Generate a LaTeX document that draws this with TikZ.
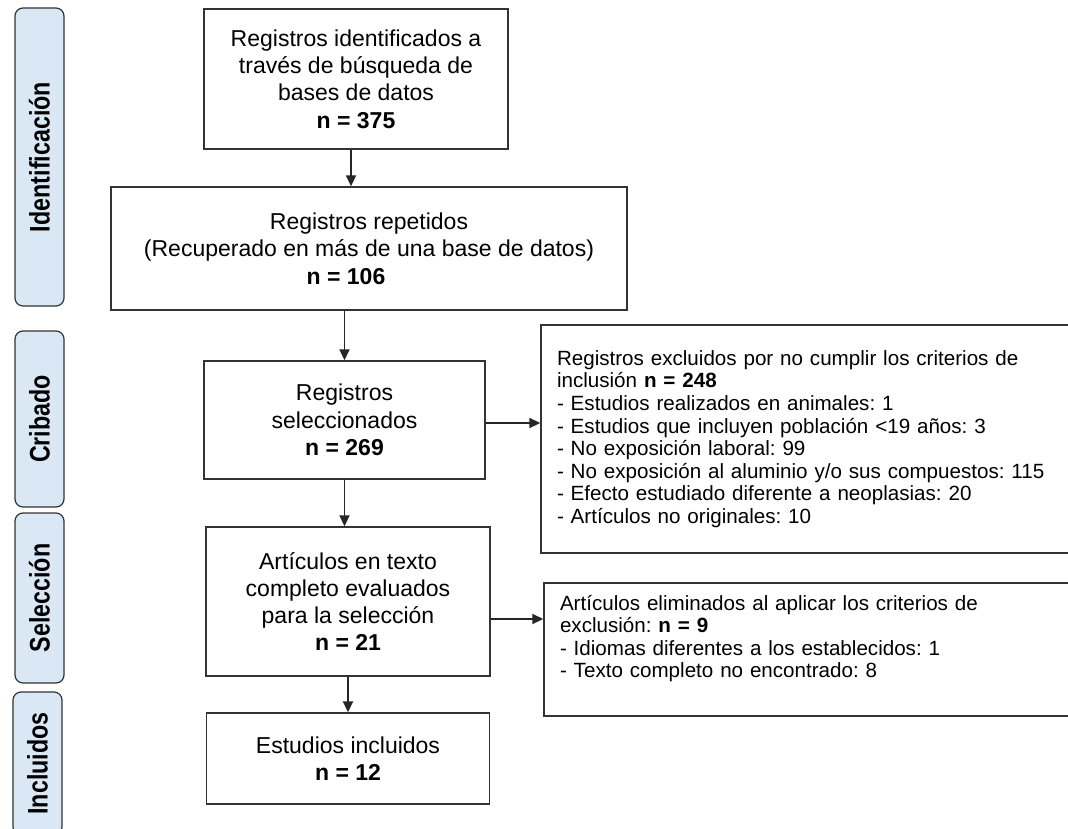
\documentclass[tikz,border=0pt]{standalone}
\usepackage{fontspec}
\setmainfont{Liberation Sans}
\usetikzlibrary{positioning,arrows.meta}
\frenchspacing

\definecolor{phasefill}{HTML}{DAE8F6}
\definecolor{boxline}{HTML}{333333}

\newcommand{\phaselabel}[1]{\scalebox{0.97}[1.18]{#1}}

\tikzset{
    flowbox/.style={draw=boxline, line width=1.4pt, align=center, inner sep=0pt,
        font=\fontsize{23}{27.3}\selectfont},
    exclbox/.style={draw=boxline, line width=1.4pt, align=left, inner xsep=16pt, inner ysep=0pt,
        font=\fontsize{20.6}{22.6}\selectfont},
    phasebox/.style={draw=boxline, fill=phasefill, line width=1.2pt, rounded corners=8pt,
        rotate=90, minimum height=49pt, inner sep=0pt, font=\bfseries\fontsize{24}{28}\selectfont},
    flow/.style={-{Triangle[length=11pt,width=10pt]}, line width=1.8pt, color=black!85}
}

\begin{document}
\begin{tikzpicture}[x=1pt, y=-1pt, on grid]
    \useasboundingbox (0,0) rectangle (1068,829);

    % fases
    \node[phasebox, minimum width=298pt] (ident) at (39.5,157) {\phaselabel{Identificación}};
    \node[phasebox, minimum width=176pt] (crib) at (39.5,419) {\phaselabel{Cribado}};
    \node[phasebox, minimum width=170pt] (selec) at (39.5,598) {\phaselabel{Selección}};
    \node[phasebox, minimum width=143pt] (inclu) at (37.5,763.5) {\phaselabel{Incluidos}};

    % diagrama
    \node[flowbox, minimum width=304pt, minimum height=140pt] (reg) at (356,79)
        {Registros identificados a\\ través de búsqueda de\\ bases de datos\\ \textbf{n = 375}};
    \node[flowbox, minimum width=516pt, minimum height=123pt] (rep) [below right=169.5pt and 13pt of reg]
        {Registros repetidos\\ (Recuperado en más de una base de datos)\\ \textbf{n = 106}\hspace*{46pt}\mbox{}};
    \node[flowbox, minimum width=281pt, minimum height=118pt] (sel) [below left=171.5pt and 24.5pt of rep]
        {Registros\\ seleccionados\\ \textbf{n = 269}};
    \node[flowbox, minimum width=284pt, minimum height=149pt] (eval) [below right=181.5pt and 3.5pt of sel]
        {Artículos en texto\\ completo evaluados\\ para la selección\\ \textbf{n = 21}};
    \node[flowbox, minimum width=283pt, minimum height=91pt] (incl) [below=157pt of eval]
        {Estudios incluidos\\ \textbf{n = 12}};

    % exclusiones (el borde derecho queda fuera de la página)
    \node[exclbox, text width=510pt, minimum height=228pt] (excl) [below right=19pt and 467.5pt of sel]
        {Registros excluidos por no cumplir los criterios de\\
         inclusión \textbf{n = 248}\\
         - Estudios realizados en animales: 1\\
         - Estudios que incluyen población <19 años: 3\\
         - No exposición laboral: 99\\
         - No exposición al aluminio y/o sus compuestos: 115\\
         - Efecto estudiado diferente a neoplasias: 20\\
         - Artículos no originales: 10};
    \node[exclbox, text width=510pt, minimum height=133pt] (elim) [below right=48pt and 467pt of eval]
        {Artículos eliminados al aplicar los criterios de\\
         exclusión: \textbf{n = 9}\\
         - Idiomas diferentes a los establecidos: 1\\
         - Texto completo no encontrado: 8\rule[-26pt]{0pt}{0pt}};

    \path[flow]
    ([xshift=-5pt]reg.south) edge ([xshift=-5pt]reg.south |- rep.north)
    (rep.south -| sel.north) edge (sel.north)
    (sel.south) edge (sel.south |- eval.north)
    (eval.south) edge (incl.north)
    ([yshift=-3pt]sel.east) edge ([yshift=-3pt]sel.east -| excl.west)
    ([yshift=-17.5pt]eval.east) edge ([yshift=-17.5pt]eval.east -| elim.west);
\end{tikzpicture}
\end{document}
